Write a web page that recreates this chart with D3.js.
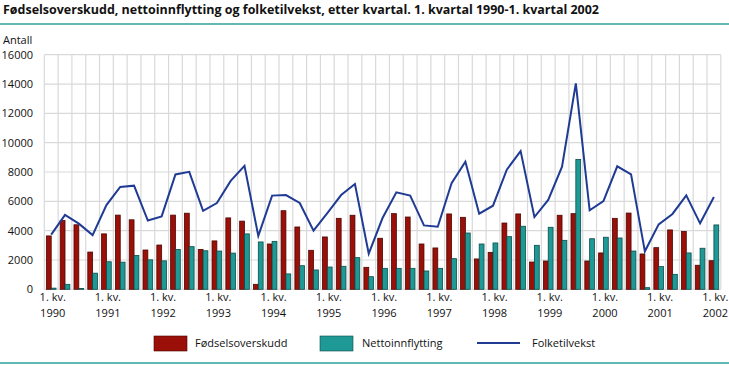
<!DOCTYPE html>
<html>
<head>
<meta charset="utf-8">
<script src="https://cdn.jsdelivr.net/npm/d3@7"></script>
<style>
  html, body { margin: 0; padding: 0; background: #fff; }
  svg { display: block; font-family: "Open Sans", "Liberation Sans", Arial, sans-serif; }
</style>
</head>
<body>
<svg id="chart" width="729" height="366"></svg>
<script>
const years = ["1990","1991","1992","1993","1994","1995","1996","1997","1998","1999","2000","2001","2002"];
const quarters = [];
years.forEach(y => { for (let q = 1; q <= 4; q++) { if (y === "2002" && q > 1) break; quarters.push(y + "K" + q); } });

const fodselsoverskudd = [
  3640, 4690, 4400, 2540,
  3780, 5060, 4740, 2680,
  3020, 5060, 5190, 2720,
  3300, 4870, 4650, 340,
  3090, 5360, 4250, 2660,
  3570, 4840, 5050, 1500,
  3480, 5160, 4930, 3090,
  2820, 5140, 4910, 2070,
  2520, 4520, 5140, 1860,
  1930, 5050, 5160, 1930,
  2480, 4840, 5200, 2410,
  2840, 4050, 3950, 1640,
  1950
];
const nettoinnflytting = [
  80, 340, 50, 1100,
  1880, 1850, 2310, 2010,
  1940, 2720, 2910, 2630,
  2610, 2470, 3780, 3230,
  3270, 1050, 1610, 1320,
  1520, 1570, 2160, 860,
  1430, 1430, 1430, 1250,
  1430, 2090, 3840, 3090,
  3160, 3590, 4300, 3000,
  4230, 3340, 8860, 3450,
  3550, 3500, 2610, 110,
  1550, 1020, 2480, 2800,
  4390
];
const folketilvekst = [
  3730, 5080, 4480, 3700,
  5740, 6980, 7070, 4690,
  4970, 7830, 8010, 5350,
  5880, 7390, 8420, 3640,
  6390, 6430, 5890, 4000,
  5200, 6430, 7180, 2430,
  4860, 6610, 6390, 4360,
  4270, 7230, 8700, 5160,
  5700, 8160, 9430, 4930,
  6090, 8360, 14050, 5390,
  6020, 8390, 7840, 2590,
  4430, 5140, 6410, 4500,
  6300
];
const yTicks = [0, 2000, 4000, 6000, 8000, 10000, 12000, 14000, 16000];
const seriesNames = ["Fødselsoverskudd", "Nettoinnflytting", "Folketilvekst"];
const colors = ["#9a0f08", "#1f9995", "#1f3b94"];
const strokes = ["#4d0603", "#0d4c49"];

const svg = d3.select("#chart");
const pLeft = 44.3, pRight = 720.8, pTop = 54.7, pBottom = 289.3;

const x0 = d3.scaleBand().domain(quarters).range([pLeft, pRight]).paddingInner(0.3).paddingOuter(0.15);
const x1 = d3.scaleBand().domain(["a", "b"]).range([0, x0.bandwidth()]);
const y = d3.scaleLinear().domain([0, 16000]).range([pBottom, pTop]);

// Title
svg.append("text").attr("x", 3).attr("y", 14)
  .attr("font-weight", "bold").attr("font-size", 12.5).attr("fill", "#111")
  .attr("textLength", 596).attr("lengthAdjust", "spacingAndGlyphs")
  .text("Fødselsoverskudd, nettoinnflytting og folketilvekst, etter kvartal. 1. kvartal 1990-1. kvartal 2002");
svg.append("line").attr("x1", 0).attr("x2", 729).attr("y1", 24).attr("y2", 24)
  .attr("stroke", "#5fb9b4").attr("stroke-width", 2);
svg.append("line").attr("x1", 0).attr("x2", 729).attr("y1", 363).attr("y2", 363)
  .attr("stroke", "#5fb9b4").attr("stroke-width", 2);

svg.append("text").attr("x", 3).attr("y", 44).attr("font-size", 11).attr("fill", "#111").text("Antall");

// Grid
const grid = svg.append("g").attr("stroke", "#d9d9d9").attr("stroke-width", 1.2);
yTicks.forEach(t => {
  grid.append("line").attr("x1", pLeft).attr("x2", pRight).attr("y1", y(t)).attr("y2", y(t));
});
d3.range(quarters.length + 1).forEach(k => {
  const xx = pLeft + k * (pRight - pLeft) / quarters.length;
  grid.append("line").attr("x1", xx).attr("x2", xx).attr("y1", pTop).attr("y2", pBottom);
});

// Y axis labels
const yAxis = d3.axisLeft(y).tickValues(yTicks).tickSize(0).tickPadding(0).tickFormat(d => String(d));
const ya = svg.append("g").attr("transform", `translate(${33},0)`).call(yAxis);
ya.select(".domain").remove();
ya.selectAll("text").attr("font-size", 11).attr("fill", "#111").attr("font-family", "Open Sans, Liberation Sans, Arial, sans-serif");

// Bars
const bars = svg.append("g");
quarters.forEach((q, i) => {
  bars.append("rect").attr("x", x0(q) + x1("a")).attr("width", x1.bandwidth())
    .attr("y", y(fodselsoverskudd[i])).attr("height", y(0) - y(fodselsoverskudd[i]))
    .attr("fill", colors[0]).attr("stroke", strokes[0]).attr("stroke-width", 0.8);
  bars.append("rect").attr("x", x0(q) + x1("b")).attr("width", x1.bandwidth())
    .attr("y", y(nettoinnflytting[i])).attr("height", y(0) - y(nettoinnflytting[i]))
    .attr("fill", colors[1]).attr("stroke", strokes[1]).attr("stroke-width", 0.8);
});

// Line
const line = d3.line().x((d, i) => x0(quarters[i]) + x0.bandwidth() / 2).y(d => y(d));
svg.append("path").datum(folketilvekst).attr("d", line)
  .attr("fill", "none").attr("stroke", colors[2]).attr("stroke-width", 2).attr("stroke-linejoin", "miter");

// X labels
const xl = svg.append("g").attr("font-size", 11).attr("fill", "#111").attr("text-anchor", "middle");
quarters.forEach((q, i) => {
  if (q.endsWith("K1")) {
    const cx = x0(q) + x0.bandwidth() / 2 + 1.5;
    xl.append("text").attr("x", cx).attr("y", 301).text("1. kv.");
    xl.append("text").attr("x", cx).attr("y", 317).text(q.slice(0, 4));
  }
});

// Legend
const lg = svg.append("g").attr("font-size", 11).attr("fill", "#111");
lg.append("rect").attr("x", 154).attr("y", 336).attr("width", 33).attr("height", 15).attr("fill", colors[0]).attr("stroke", strokes[0]).attr("stroke-width", 0.6);
lg.append("text").attr("x", 195).attr("y", 347).text(seriesNames[0]);
lg.append("rect").attr("x", 320).attr("y", 336).attr("width", 33).attr("height", 15).attr("fill", colors[1]).attr("stroke", strokes[1]).attr("stroke-width", 0.6);
lg.append("text").attr("x", 362).attr("y", 347).text(seriesNames[1]);
lg.append("line").attr("x1", 477).attr("x2", 520).attr("y1", 343).attr("y2", 343).attr("stroke", colors[2]).attr("stroke-width", 2);
lg.append("text").attr("x", 532).attr("y", 347).text(seriesNames[2]);
</script>
</body>
</html>
